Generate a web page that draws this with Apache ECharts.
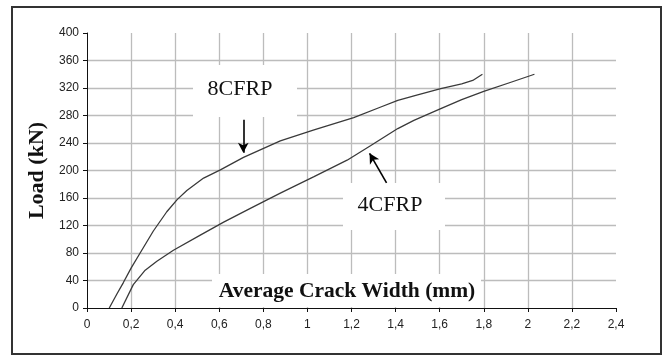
<!DOCTYPE html>
<html>
<head>
<meta charset="utf-8">
<script src="https://cdn.jsdelivr.net/npm/echarts@6/dist/echarts.min.js"></script>
<style>
  html, body { margin: 0; padding: 0; background: #fff; }
  #chart { width: 667px; height: 356px; }
</style>
</head>
<body>
<div id="chart"></div>
<script>
// 8CFRP curve: average crack width (mm) vs load (kN)
const crack8 = [0.101, 0.135, 0.165, 0.2, 0.241, 0.301, 0.362, 0.41, 0.453, 0.529, 0.605, 0.71, 0.877, 1.03, 1.21, 1.33, 1.41, 1.5, 1.605, 1.7, 1.75, 1.794];
const load8 = [0, 20, 37, 58, 80, 112, 140, 158, 171, 189, 201, 219, 243, 259, 277, 292, 302, 310, 319, 326, 331, 340];

// 4CFRP curve
const crack4 = [0.158, 0.21, 0.264, 0.317, 0.392, 0.514, 0.62, 0.741, 0.877, 1.03, 1.18, 1.286, 1.41, 1.483, 1.605, 1.7, 1.8, 1.92, 2.03];
const load4 = [0, 34, 55, 68, 84, 106, 125, 145, 167, 191, 215, 236, 261, 273, 290, 303, 315, 328, 340];

// axis scales
const xTicks = { min: 0, max: 2.4, interval: 0.2 };
const yTicks = { min: 0, max: 400, interval: 40 };

// arrows pointing at the curves (data coords)
const arrow8 = [[0.709, 274], [0.709, 226]];
const arrow4 = [[1.359, 182], [1.282, 225]];

const pairs = (xs, ys) => xs.map((x, i) => [x, ys[i]]);

const chart = echarts.init(document.getElementById('chart'));

const tickFont = { fontFamily: 'Liberation Sans', fontSize: 12, color: '#222' };
const serif = 'Liberation Serif';

function curve(name, xs, ys, arrow) {
  return {
    name: name,
    type: 'line',
    data: pairs(xs, ys),
    showSymbol: false,
    smooth: false,
    lineStyle: { color: '#3a3a3a', width: 1.3 },
    markLine: {
      silent: true,
      symbol: ['none', 'arrow'],
      symbolSize: [8, 10],
      label: { show: false },
      lineStyle: { color: '#000', width: 1.6, type: 'solid' },
      data: [[{ coord: arrow[0] }, { coord: arrow[1] }]]
    }
  };
}

chart.setOption({
  animation: false,
  grid: { left: 87, top: 33, width: 529, height: 275, outerBoundsMode: 'none' },
  xAxis: {
    type: 'value',
    min: xTicks.min, max: xTicks.max, interval: xTicks.interval,
    axisLine: { show: true, onZero: false, lineStyle: { color: '#111', width: 1 } },
    axisTick: { show: true, length: 4, lineStyle: { color: '#111' } },
    axisLabel: Object.assign({
      margin: 11,
      formatter: v => String(Math.round(v * 10) / 10).replace('.', ',')
    }, tickFont),
    splitLine: { show: true, showMinLine: false, showMaxLine: false, lineStyle: { color: '#bcbcbc', width: 1.3 } }
  },
  yAxis: {
    type: 'value',
    min: yTicks.min, max: yTicks.max, interval: yTicks.interval,
    name: 'Load (kN)',
    nameLocation: 'middle',
    nameGap: 36,
    nameTextStyle: { fontFamily: serif, fontWeight: 'bold', fontSize: 22, color: '#111' },
    axisLine: { show: true, lineStyle: { color: '#111', width: 1 } },
    axisTick: { show: true, length: 4, lineStyle: { color: '#111' } },
    axisLabel: Object.assign({ margin: 8 }, tickFont),
    splitLine: { show: true, showMinLine: false, showMaxLine: false, lineStyle: { color: '#bcbcbc', width: 1.3 } }
  },
  series: [
    curve('8CFRP', crack8, load8, arrow8),
    curve('4CFRP', crack4, load4, arrow4)
  ],
  graphic: [
    // outer frame
    { type: 'rect', shape: { x: 12, y: 7, width: 649, height: 347 }, style: { fill: 'none', stroke: '#333', lineWidth: 2 }, z: 10 },
    // label boxes hiding the gridlines
    { type: 'rect', shape: { x: 193, y: 65, width: 104, height: 52 }, style: { fill: '#fff' }, z: 1 },
    { type: 'text', x: 240, y: 89, style: { text: '8CFRP', fontFamily: serif, fontSize: 22, fill: '#111', textAlign: 'center', textVerticalAlign: 'middle' }, z: 2 },
    { type: 'rect', shape: { x: 343, y: 183, width: 102, height: 47 }, style: { fill: '#fff' }, z: 1 },
    { type: 'text', x: 390, y: 205, style: { text: '4CFRP', fontFamily: serif, fontSize: 22, fill: '#111', textAlign: 'center', textVerticalAlign: 'middle' }, z: 2 },
    { type: 'rect', shape: { x: 212, y: 274, width: 269, height: 33 }, style: { fill: '#fff' }, z: 1 },
    { type: 'text', x: 347, y: 291, style: { text: 'Average Crack Width (mm)', fontFamily: serif, fontWeight: 'bold', fontSize: 21.5, fill: '#111', textAlign: 'center', textVerticalAlign: 'middle' }, z: 2 }
  ]
});
</script>
</body>
</html>
